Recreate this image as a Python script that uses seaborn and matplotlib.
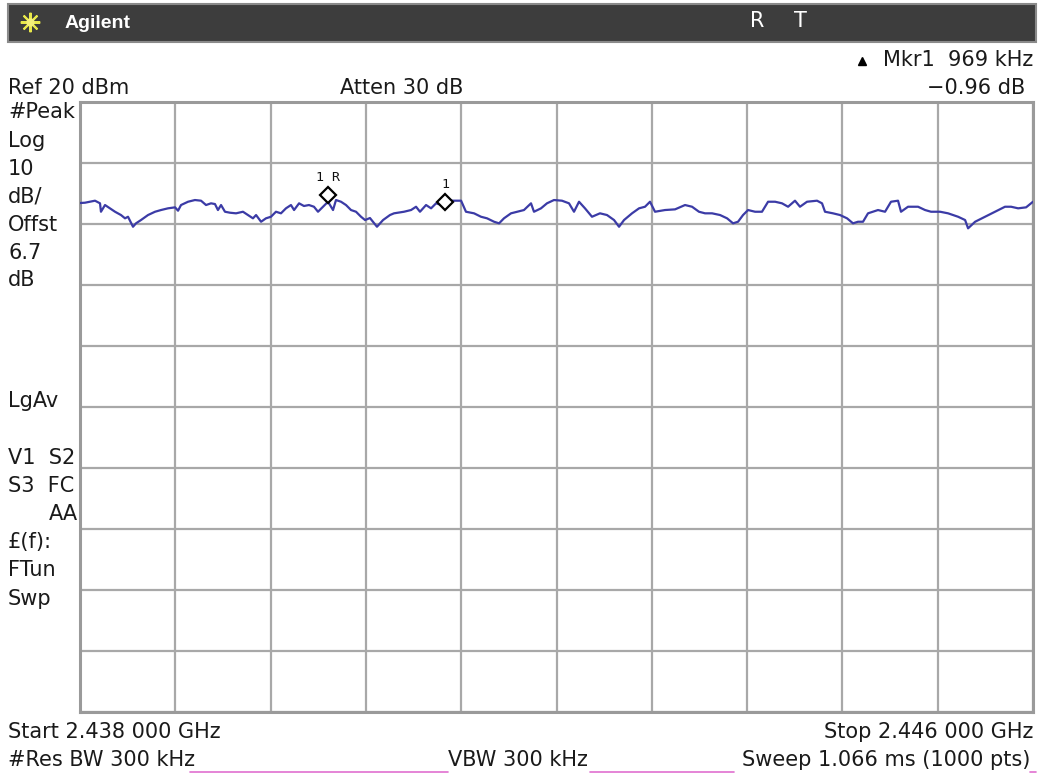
import matplotlib
matplotlib.use("Agg")
import matplotlib.pyplot as plt
from matplotlib.patches import Rectangle
from matplotlib.lines import Line2D
import seaborn as sns
import pandas as pd
import numpy as np

start_mhz = 2438.0
stop_mhz = 2446.0
ref_dbm = 20
db_per_div = 10

freq_offset_mhz = [
    0.000, 0.042, 0.126, 0.168, 0.176, 0.210, 0.252, 0.294, 0.344, 0.378, 0.403, 0.445,
    0.470, 0.512, 0.571, 0.630, 0.680, 0.739, 0.798, 0.823, 0.848, 0.907, 0.965, 1.016,
    1.058, 1.100, 1.133, 1.158, 1.184, 1.217, 1.259, 1.310, 1.368, 1.410, 1.452, 1.478,
    1.520, 1.561, 1.603, 1.645, 1.687, 1.729, 1.771, 1.797, 1.839, 1.880, 1.922, 1.964,
    1.998, 2.040, 2.082, 2.124, 2.149, 2.191, 2.233, 2.275, 2.317, 2.359, 2.393, 2.434,
    2.493, 2.544, 2.602, 2.636, 2.720, 2.779, 2.821, 2.854, 2.905, 2.947, 2.989, 3.039,
    3.073, 3.115, 3.199, 3.240, 3.308, 3.366, 3.417, 3.476, 3.518, 3.559, 3.618, 3.669,
    3.727, 3.786, 3.811, 3.870, 3.920, 3.979, 4.046, 4.105, 4.147, 4.189, 4.239, 4.298,
    4.365, 4.424, 4.483, 4.525, 4.567, 4.634, 4.693, 4.743, 4.785, 4.827, 4.911, 4.995,
    5.079, 5.138, 5.196, 5.247, 5.306, 5.373, 5.432, 5.482, 5.524, 5.566, 5.608, 5.667,
    5.725, 5.776, 5.835, 5.893, 5.944, 6.002, 6.044, 6.103, 6.187, 6.229, 6.254, 6.321,
    6.380, 6.439, 6.489, 6.531, 6.573, 6.615, 6.699, 6.758, 6.808, 6.867, 6.892, 6.951,
    7.035, 7.094, 7.144, 7.220, 7.287, 7.371, 7.430, 7.455, 7.514, 7.598, 7.681, 7.765,
    7.816, 7.875, 7.942, 8.000,
]
level_dbm = [
    3.44, 3.49, 3.82, 3.39, 2.01, 3.11, 2.57, 2.01, 1.47, 0.93, 1.19, -0.45,
    0.11, 0.65, 1.47, 2.01, 2.29, 2.57, 2.73, 2.18, 3.11, 3.65, 3.93, 3.82,
    3.11, 3.39, 3.27, 2.29, 3.11, 2.01, 1.85, 1.75, 2.01, 1.47, 0.93, 1.47,
    0.37, 0.93, 1.19, 2.01, 1.75, 2.57, 3.11, 2.29, 3.39, 2.95, 3.11, 2.83,
    2.01, 2.83, 3.65, 2.29, 3.93, 3.65, 3.11, 2.29, 2.01, 1.19, 0.65, 0.98,
    -0.45, 0.65, 1.47, 1.75, 2.01, 2.29, 2.83, 2.01, 3.11, 2.57, 3.39, 3.11,
    2.83, 3.82, 3.82, 2.01, 1.75, 1.19, 0.93, 0.37, 0.11, 0.93, 1.75, 2.01,
    2.29, 3.39, 2.01, 2.57, 3.39, 3.93, 3.82, 3.39, 2.01, 3.65, 2.57, 1.19,
    1.75, 1.47, 0.65, -0.45, 0.65, 1.75, 2.57, 2.83, 3.65, 2.01, 2.29, 2.40,
    3.11, 2.83, 2.01, 1.75, 1.75, 1.47, 0.93, 0.11, 0.37, 1.47, 2.29, 2.01,
    2.01, 3.65, 3.65, 3.39, 2.83, 3.82, 2.83, 3.65, 3.82, 3.39, 2.01, 1.75,
    1.47, 0.93, 0.11, 0.37, 0.37, 1.75, 2.29, 2.01, 3.65, 3.82, 2.01, 2.83,
    2.83, 2.29, 2.01, 2.01, 1.75, 1.19, 0.65, -0.71, 0.37, 1.19, 2.01, 2.83,
    2.83, 2.57, 2.73, 3.65,
]

marker_names = ["1 R", "1"]
marker_offset_mhz = [2.082, 3.064]
marker_dbm = [4.75, 3.6]

left_labels = ["#Peak", "Log", "10", "dB/", "Offst", "6.7", "dB", "LgAv",
               "V1  S2", "S3  FC", "AA", "£(f):", "FTun", "Swp"]
left_label_y = [112, 141, 169, 197, 225, 253, 280, 401, 458, 486, 514, 542, 570, 599]

# ---- style ----
sns.set_style("white")
plt.rcParams['font.family'] = ['DejaVu Sans']

W, H = 1040, 777
fig = plt.figure(figsize=(W / 100, H / 100), dpi=100)
fig.patch.set_facecolor("white")


def fx(x):
    return x / W


def fy(y):
    return 1 - y / H


ax = fig.add_axes([fx(80), fy(712), fx(1033) - fx(80), fy(102) - fy(712)])

df = pd.DataFrame({"f": [start_mhz + v for v in freq_offset_mhz], "dbm": level_dbm})
sns.lineplot(data=df, x="f", y="dbm", ax=ax, color="#3b3ba6", linewidth=1.6,
             estimator=None, sort=False, zorder=3)

ax.set_xlim(start_mhz, stop_mhz)
ax.set_ylim(ref_dbm - 10 * db_per_div, ref_dbm)
ax.set_xticks(np.linspace(start_mhz, stop_mhz, 11))
ax.set_yticks(np.arange(ref_dbm - 10 * db_per_div, ref_dbm + 1, db_per_div))
ax.tick_params(length=0, labelbottom=False, labelleft=False)
ax.set_xlabel("")
ax.set_ylabel("")
ax.grid(True, color="#a8a8a8", linewidth=1.6)
for s in ax.spines.values():
    s.set_color("#9a9a9a")
    s.set_linewidth(2.2)

# markers
for name, mo, md in zip(marker_names, marker_offset_mhz, marker_dbm):
    ax.plot([start_mhz + mo], [md], marker="D", markersize=8, markerfacecolor="white",
            markeredgecolor="black", markeredgewidth=1.6, zorder=5, clip_on=False)
    ax.annotate(name, (start_mhz + mo, md), xytext=(0, 8), textcoords="offset points",
                ha="center", va="bottom", fontsize=9.5, color="#111111",
                family=["DejaVu Sans Mono", "DejaVu Sans"])

# top bar
fig.add_artist(Rectangle((fx(8), fy(42)), fx(1036) - fx(8), fy(4) - fy(42),
                         transform=fig.transFigure, facecolor="#3d3d3d",
                         edgecolor="#8a8a8a", linewidth=1.5))
fig.add_artist(Line2D([fx(30)], [fy(22)], marker=(8, 2, 0), markersize=14,
                      color="#e8e84a", markeredgewidth=1.5, transform=fig.transFigure))
fig.add_artist(Line2D([fx(30)], [fy(22)], marker="o", markersize=5,
                      color="#f4f07a", transform=fig.transFigure))
fig.text(fx(65), fy(23), "Agilent", color="white", fontsize=14, fontweight="bold",
         family=["Liberation Sans", "DejaVu Sans"], va="center", ha="left")
fig.text(fx(757), fy(21), "R", color="white", fontsize=15, va="center", ha="center")
fig.text(fx(800), fy(21), "T", color="white", fontsize=15, va="center", ha="center")

txt = dict(fontsize=15, color="#1a1a1a", va="center")
fig.text(fx(1033), fy(60), "Mkr1  969 kHz", ha="right", **txt)
fig.add_artist(Line2D([fx(862)], [fy(61)], marker="^", markersize=6, color="black",
                      transform=fig.transFigure))
fig.text(fx(8), fy(88), "Ref 20 dBm", ha="left", **txt)
fig.text(fx(340), fy(88), "Atten 30 dB", ha="left", **txt)
fig.text(fx(1025), fy(88), "\u22120.96 dB", ha="right", **txt)

for lab, yy in zip(left_labels, left_label_y):
    if lab == "AA":
        fig.text(fx(78), fy(yy), lab, ha="right", **txt)
    else:
        fig.text(fx(8), fy(yy), lab, ha="left", **txt)

fig.text(fx(8), fy(732), "Start 2.438 000 GHz", ha="left", **txt)
fig.text(fx(1033), fy(732), "Stop 2.446 000 GHz", ha="right", **txt)
fig.text(fx(8), fy(760), "#Res BW 300 kHz", ha="left", **txt)
fig.text(fx(588), fy(760), "VBW 300 kHz", ha="right", **txt)
fig.text(fx(1030), fy(760), "Sweep 1.066 ms (1000 pts)", ha="right", **txt)

for x0, x1 in [(190, 448), (590, 734), (1030, 1036)]:
    fig.add_artist(Line2D([fx(x0), fx(x1)], [fy(772), fy(772)], color="#e070d0",
                          linewidth=1.2, transform=fig.transFigure))

fig.savefig("out.png", dpi=100, facecolor="white")
